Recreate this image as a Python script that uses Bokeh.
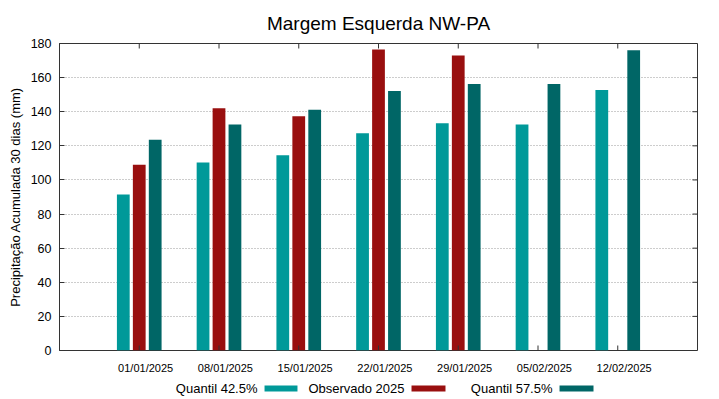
from bokeh.plotting import figure
from bokeh.models import Range1d, FixedTicker
from bokeh.layouts import column
from bokeh.embed import file_html
from bokeh.resources import INLINE
from bokeh.core.properties import value

# ---- data ----
title_text = "Margem Esquerda NW-PA"
dates = ["01/01/2025", "08/01/2025", "15/01/2025", "22/01/2025",
         "29/01/2025", "05/02/2025", "12/02/2025"]
q425 = [91.5, 110.2, 114.5, 127.4, 133.3, 132.5, 152.8]
obs2025 = [108.9, 142.1, 137.4, 176.5, 173.0, float("nan"), float("nan")]
q575 = [123.5, 132.5, 141.1, 152.2, 156.2, 156.2, 176.1]
series_names = ["Quantil 42.5%", "Observado 2025", "Quantil 57.5%"]
series_colors = ["#009999", "#990f0f", "#006666"]
y_ticks = [0, 20, 40, 60, 80, 100, 120, 140, 160, 180]

FONT = "Liberation Sans"
idx = list(range(len(dates)))
X0, X1, Y0, Y1 = -1, 7, 0, 180

W = 719
LEFT, RIGHT, TOP, BOTTOM = 59, 22, 8, 8
H0 = 35
H1 = 358 - H0
H2 = 399 - H0 - H1
AXC = "#333333"

# ---- top strip: title ----
p0 = figure(width=W, height=H0, output_backend="svg", toolbar_location=None,
            x_range=Range1d(X0, X1), y_range=Range1d(0, H0),
            x_axis_type=None, y_axis_type=None,
            min_border_left=LEFT, min_border_right=RIGHT,
            min_border_top=0, min_border_bottom=0)
p0.outline_line_color = None
p0.grid.visible = False
p0.text(x=[(X0 + X1) / 2], y=[12], text=[title_text],
        text_font=value(FONT), text_font_size="19px", text_color="#000000",
        text_align="center", text_baseline="alphabetic")

# ---- main plot ----
p = figure(width=W, height=H1, output_backend="svg", toolbar_location=None,
           x_range=p0.x_range, y_range=Range1d(Y0, Y1),
           min_border_left=LEFT, min_border_right=RIGHT,
           min_border_top=TOP, min_border_bottom=BOTTOM)

for vals, off, col in zip([q425, obs2025, q575], [-0.2, 0.0, 0.2], series_colors):
    p.vbar(x=[i + off for i in idx], top=vals, bottom=0, width=0.16,
           fill_color=col, line_color=None)

# y axis (left)
p.xaxis.visible = False
p.yaxis.ticker = FixedTicker(ticks=y_ticks)
p.yaxis.axis_label = "Precipitação Acumulada 30 dias (mm)"
p.yaxis.axis_label_text_font = FONT
p.yaxis.axis_label_text_font_size = "13px"
p.yaxis.axis_label_text_font_style = "normal"
p.yaxis.axis_label_text_color = "#000000"
p.yaxis.axis_label_standoff = 5
p.yaxis.major_label_text_font = FONT
p.yaxis.major_label_text_font_size = "12.5px"
p.yaxis.major_label_text_color = "#000000"
p.yaxis.major_label_standoff = 8
p.yaxis.major_tick_in = 5
p.yaxis.major_tick_out = 0
p.yaxis.minor_tick_line_color = None
p.yaxis.axis_line_color = AXC
p.yaxis.major_tick_line_color = AXC

# inward tick marks on bottom, top and right borders (5 px long)
tlx = 5 * (X1 - X0) / (W - LEFT - RIGHT)
tly = 5 * (Y1 - Y0) / (H1 - TOP - BOTTOM)
p.segment(x0=idx, x1=idx, y0=[Y0] * len(idx), y1=[Y0 + tly] * len(idx),
          line_color=AXC, line_width=1)
p.segment(x0=idx, x1=idx, y0=[Y1] * len(idx), y1=[Y1 - tly] * len(idx),
          line_color=AXC, line_width=1)
p.segment(x0=[X1] * len(y_ticks), x1=[X1 - tlx] * len(y_ticks), y0=y_ticks, y1=y_ticks,
          line_color=AXC, line_width=1)

p.xgrid.grid_line_color = None
p.ygrid.ticker = FixedTicker(ticks=y_ticks[1:-1])
p.ygrid.grid_line_color = "#9a9a9a"
p.ygrid.grid_line_dash = "1 2"
p.outline_line_color = AXC

# ---- bottom strip: date labels + legend ----
p2 = figure(width=W, height=H2, output_backend="svg", toolbar_location=None,
            x_range=p0.x_range, y_range=Range1d(0, H2),
            x_axis_type=None, y_axis_type=None,
            min_border_left=LEFT, min_border_right=RIGHT,
            min_border_top=0, min_border_bottom=0)
p2.outline_line_color = None
p2.grid.visible = False

p2.text(x=[i + 0.08 for i in idx], y=[H2 - 9] * len(idx), text=dates,
        text_font=value(FONT), text_font_size="11px", text_color="#000000",
        text_align="center", text_baseline="middle")

leg_text_x = [1.483, 3.326, 5.182]
leg_sw_l = [1.571, 3.414, 5.270]
leg_sw_r = [1.984, 3.840, 5.696]
p2.text(x=leg_text_x, y=[11] * 3, text=series_names,
        text_font=value(FONT), text_font_size="13px", text_color="#000000",
        text_align="right", text_baseline="middle")
p2.quad(left=leg_sw_l, right=leg_sw_r, bottom=[8] * 3, top=[14] * 3,
        fill_color=series_colors, line_color=None)

layout = column(p0, p, p2)
open("out.html", "w").write(file_html(layout, INLINE))
